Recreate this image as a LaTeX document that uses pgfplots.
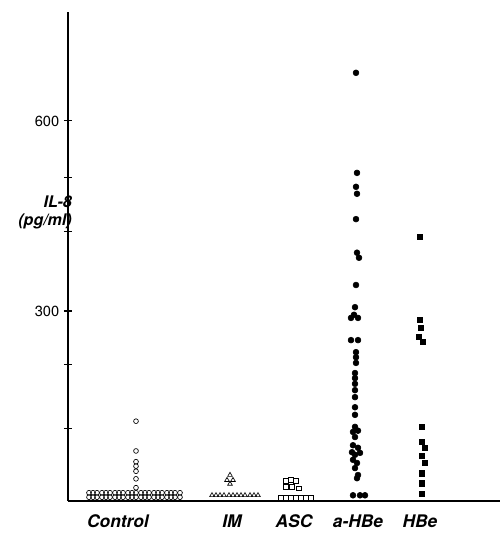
\documentclass[border=0pt]{standalone}
\usepackage{fontspec}
\setmainfont{TeX Gyre Heros}
\usepackage{pgfplots}
\pgfplotsset{compat=1.18}

% x positions are in picture pixels (68 = y axis, 500 = right end)
\pgfplotstableread{
x y
89 13
93 13
97 13
102 13
106 13
110 13
115 13
119 13
123 13
128 13
132 13
136 13
141 13
145 13
149 13
154 13
158 13
162 13
167 13
171 13
175 13
180 13
89 6
93 6
97 6
102 6
106 6
110 6
115 6
119 6
123 6
128 6
132 6
136 6
141 6
145 6
149 6
154 6
158 6
162 6
167 6
171 6
175 6
180 6
136 126
136 79
136 62
136 55
136 47
136 35
136 21
}\control

\pgfplotstableread{
x y
212 9
216 9
220 9
224 9
229 9
233 9
237 9
241 9
245 9
250 9
254 9
258 9
230 41
227 33
233 33
230 27
}\im

\pgfplotstableread{
x y
281 5
286 5
291 5
296 5
301 5
306 5
311 5
286 32
291 33
296 32
286 22
292 22
299 20
}\asc

\pgfplotstableread{
x y
356 676
357 518
356 496
357 485
356 445
357 392
359 384
356 341
355 306
354 294
351 289
358 289
351 254
358 254
356 235
356 227
356 218
355 202
355 194
355 185
355 175
355 164
355 148
355 136
355 117
353 109
358 111
355 101
353 88
358 84
352 77
360 76
355 73
353 65
357 60
355 52
358 41
357 36
353 9
360 9
365 9
}\ahbe

\pgfplotstableread{
x y
420 417
420 286
421 273
419 259
423 251
422 117
422 93
425 84
422 71
425 60
422 44
422 28
422 11
}\hbe

\begin{document}
\begin{tikzpicture}
\begin{axis}[
    scale only axis,
    width=324pt, height=366.75pt,
    xmin=68, xmax=500,
    ymin=0, ymax=772,
    axis lines*=left,
    axis line style={line width=1pt},
    clip=false,
    xtick={118,232,294,358,420},
    xticklabels={Control,IM,ASC,a-HBe,HBe},
    x tick label style={font=\fontsize{13}{15}\selectfont\bfseries\itshape, yshift=-4pt},
    x tick style={draw=none},
    ytick={115,215,300,425,510,600},
    yticklabels={,,300,,,600},
    y tick label style={font=\fontsize{11}{13}\selectfont},
    /pgf/number format/assume math mode=true,
    tick align=center,
    major tick length=6pt,
    y tick style={line width=0.8pt, black},
]
\addplot[only marks, mark=o, mark size=1.8pt, mark options={line width=0.5pt}] table {\control};
\addplot[only marks, mark=triangle, mark size=2pt, mark options={line width=0.5pt}] table {\im};
\addplot[only marks, mark=square, mark size=1.7pt, mark options={line width=0.5pt}] table {\asc};
\addplot[only marks, mark=*, mark size=2.2pt, black] table {\ahbe};
\addplot[only marks, mark=square*, mark size=2pt, black] table {\hbe};
\node[anchor=east, align=right, inner sep=0pt, font=\fontsize{12}{13.5}\selectfont\bfseries\itshape]
    at ([xshift=3pt]rel axis cs:0,0.59) {IL-8\\(pg/ml)};
\end{axis}
\pgfresetboundingbox
\useasboundingbox ([xshift=-51pt,yshift=-26.25pt]current axis.south west) rectangle ([yshift=9pt]current axis.north east);
\end{tikzpicture}
\end{document}
